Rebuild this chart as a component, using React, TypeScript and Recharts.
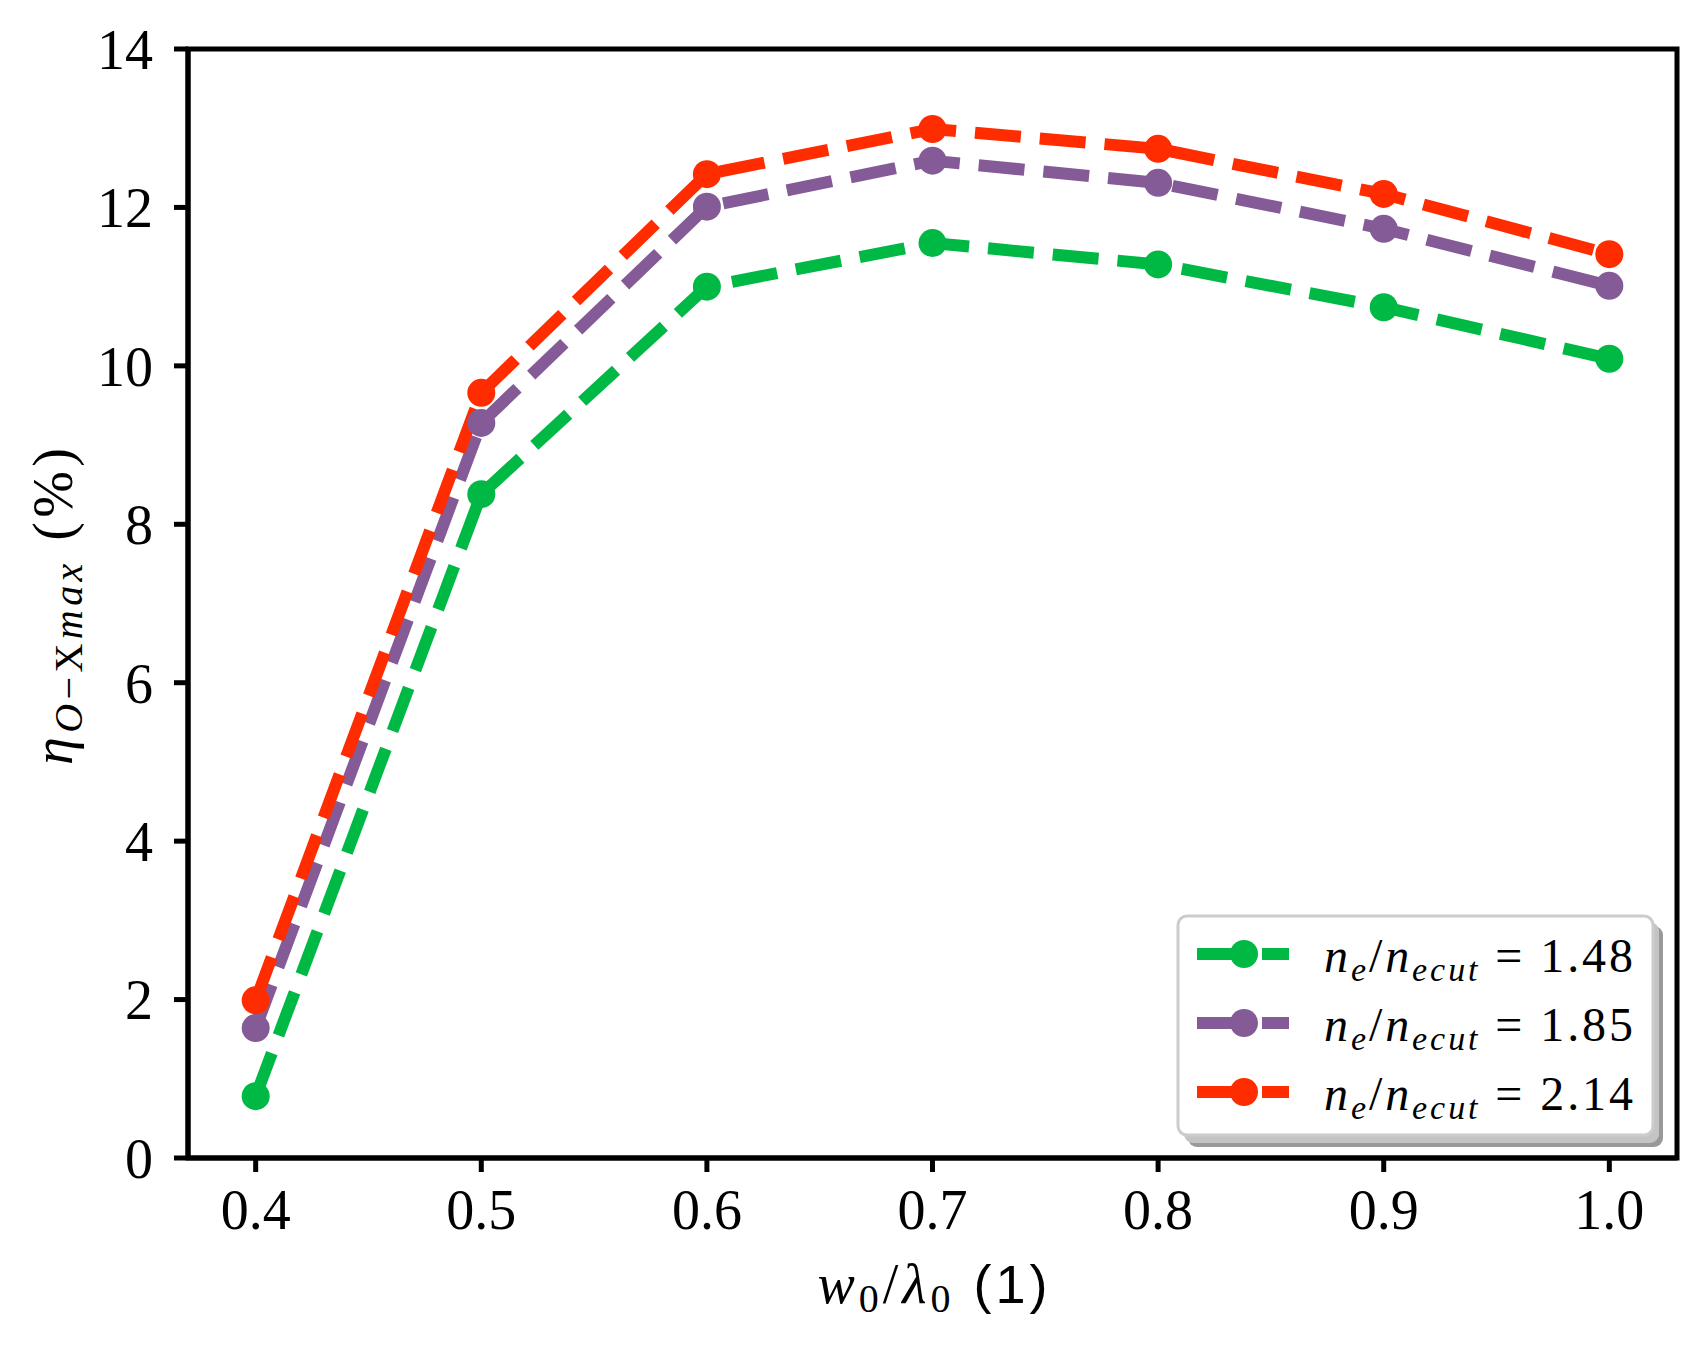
import React from 'react';
import { LineChart, Line, XAxis, YAxis, ReferenceArea, Legend } from 'recharts';

// beam width / wavelength
const xValues = [0.4, 0.5, 0.6, 0.7, 0.8, 0.9, 1.0];
const xTicks = [0.4, 0.5, 0.6, 0.7, 0.8, 0.9, 1.0];
const yTicks = [0, 2, 4, 6, 8, 10, 12, 14];

// efficiency (%) for each density ratio
const greenValues = [0.78, 8.38, 11.0, 11.55, 11.28, 10.74, 10.09];
const purpleValues = [1.64, 9.28, 12.01, 12.59, 12.31, 11.73, 11.01];
const redValues = [1.99, 9.66, 12.42, 12.99, 12.74, 12.17, 11.41];

const seriesLabels = ['1.48', '1.85', '2.14'];
const seriesColors = ['#00B945', '#845B97', '#FF2C00'];
const seriesKeys = ['g', 'p', 'r'];

const data = xValues.map((x, i) => ({
  x,
  g: greenValues[i],
  p: purpleValues[i],
  r: redValues[i],
}));

const SERIF = '"Liberation Serif", "DejaVu Serif", serif';
const SANS = '"Liberation Sans", Arial, sans-serif';
const DASH = '46 19';

const makeDot = (color: string) => (props: any) => (
  <circle key={`${color}-${props.index}`} cx={props.cx} cy={props.cy} r={14} fill={color} stroke="none" />
);

const YLabel = (props: any) => {
  const vb = props.viewBox || { x: 0, y: 49, width: 188, height: 1109 };
  const cy = vb.y + vb.height / 2 + 3;
  return (
    <text
      transform={`translate(72, ${cy}) rotate(-90)`}
      textAnchor="middle"
      fontFamily={SERIF}
      fontSize={56}
      fill="#000"
      textLength={317}
      lengthAdjust="spacing"
    >
      <tspan fontStyle="italic">η</tspan>
      <tspan fontSize={40} dy={10} fontStyle="italic">O</tspan>
      <tspan fontSize={40}>−X</tspan>
      <tspan fontSize={40} fontStyle="italic">max</tspan>
      <tspan dy={-10}> (%)</tspan>
    </text>
  );
};

const XLabel = (props: any) => {
  const vb = props.viewBox || { x: 188, y: 1158, width: 1489, height: 189 };
  const cx = vb.x + vb.width / 2;
  return (
    <text x={cx} y={1303} textAnchor="middle" fontFamily={SERIF} fontSize={56} fill="#000" textLength={230} lengthAdjust="spacing">
      <tspan fontStyle="italic">w</tspan>
      <tspan fontSize={40} dy={9}>0</tspan>
      <tspan dy={-9}>/</tspan>
      <tspan fontStyle="italic">λ</tspan>
      <tspan fontSize={40} dy={9}>0</tspan>
      <tspan dy={-9} fontFamily={SANS} fontSize={54}> (1)</tspan>
    </text>
  );
};

const LegendBox = () => (
  <svg width={500} height={260} style={{ display: 'block' }}>
    <rect x={18} y={26} width={475} height={221} rx={9} fill="#999" />
    <rect x={14} y={22} width={475} height={221} rx={9} fill="#c4c4c4" />
    <rect x={8} y={16} width={475} height={219} rx={9} fill="#fff" stroke="#cccccc" strokeWidth={3} />
    {seriesLabels.map((lab, i) => {
      const cy = 54 + i * 69;
      return (
        <g key={lab}>
          <line x1={27} x2={119} y1={cy} y2={cy} stroke={seriesColors[i]} strokeWidth={12} strokeDasharray={DASH} />
          <circle cx={74} cy={cy} r={14} fill={seriesColors[i]} />
          <text x={154} y={cy + 18} fontFamily={SERIF} fontSize={48} fill="#000" textLength={309} lengthAdjust="spacing">
            <tspan fontStyle="italic">n</tspan>
            <tspan fontStyle="italic" fontSize={34} dy={9}>e</tspan>
            <tspan dy={-9}>/</tspan>
            <tspan fontStyle="italic">n</tspan>
            <tspan fontStyle="italic" fontSize={34} dy={9}>ecut</tspan>
            <tspan dy={-9}> = {lab}</tspan>
          </text>
        </g>
      );
    })}
  </svg>
);

export default function App() {
  return (
    <div style={{ position: 'absolute', left: 0, top: 0, width: 1706, height: 1347, background: '#fff' }}>
      <LineChart width={1706} height={1347} data={data} margin={{ top: 49, right: 29, bottom: 0, left: 0 }}>
        <ReferenceArea x1={0.37} x2={1.03} y1={0} y2={14} fill="none" stroke="#000" strokeWidth={5} ifOverflow="visible" />
        <XAxis
          dataKey="x"
          type="number"
          domain={[0.37, 1.03]}
          ticks={xTicks}
          allowDataOverflow
          height={189}
          tickFormatter={(v: number) => v.toFixed(1)}
          tick={{ fill: '#000', fontSize: 56, fontFamily: SERIF }}
          tickSize={14}
          tickMargin={17}
          axisLine={{ stroke: '#000', strokeWidth: 5 }}
          tickLine={{ stroke: '#000', strokeWidth: 5 }}
          label={<XLabel />}
        />
        <YAxis
          type="number"
          domain={[0, 14]}
          ticks={yTicks}
          allowDataOverflow
          width={188}
          tick={{ fill: '#000', fontSize: 56, fontFamily: SERIF }}
          tickSize={14}
          tickMargin={21}
          axisLine={{ stroke: '#000', strokeWidth: 5 }}
          tickLine={{ stroke: '#000', strokeWidth: 5 }}
          label={<YLabel />}
        />
        {seriesKeys.map((k, i) => (
          <Line
            key={k}
            dataKey={k}
            name={seriesLabels[i]}
            type="linear"
            stroke={seriesColors[i]}
            strokeWidth={12}
            strokeDasharray={DASH}
            dot={makeDot(seriesColors[i])}
            activeDot={false}
            isAnimationActive={false}
          />
        ))}
        <Legend
          layout="horizontal"
          verticalAlign="middle"
          align="center"
          content={() => <LegendBox />}
          wrapperStyle={{ position: 'absolute', left: 1170, top: 900, width: 500, height: 260 }}
        />
      </LineChart>
    </div>
  );
}
